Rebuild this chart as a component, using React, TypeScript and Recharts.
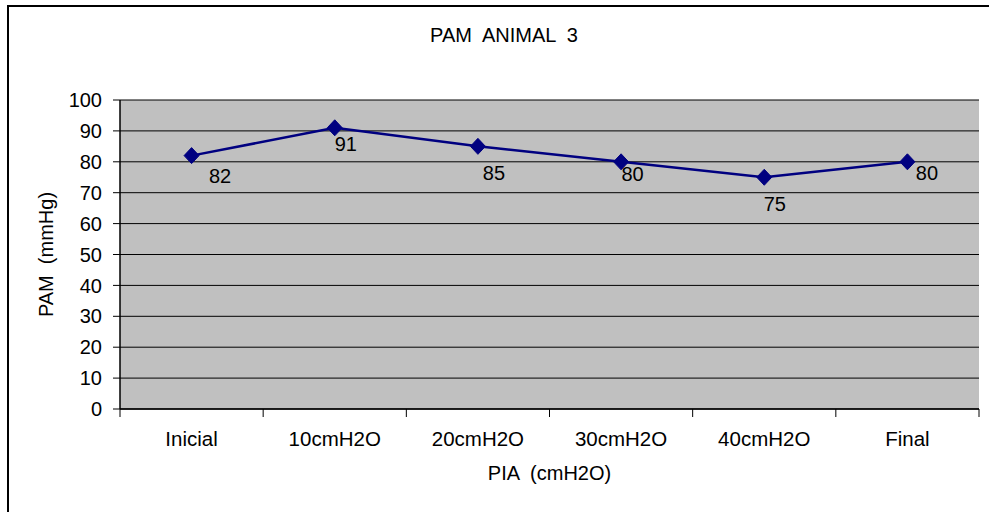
import React from 'react';
import { LineChart, Line, XAxis, YAxis, CartesianGrid, LabelList } from 'recharts';

// Mean arterial pressure per intra-abdominal pressure step
const categories = ['Inicial', '10cmH2O', '20cmH2O', '30cmH2O', '40cmH2O', 'Final'];
const pamValues = [82, 91, 85, 80, 75, 80];
const yTicks = [0, 10, 20, 30, 40, 50, 60, 70, 80, 90, 100];

const chartTitle = 'PAM  ANIMAL  3';
const xTitle = 'PIA  (cmH2O)';
const yTitle = 'PAM  (mmHg)';

const W = 989;
const H = 512;
const PLOT_LEFT = 120;
const PLOT_RIGHT = 979;
const PLOT_TOP = 100;
const PLOT_BOTTOM = 409;
const Y_AXIS_W = 60;
const X_AXIS_H = 40;
const FONT = '"Liberation Sans", Arial, Helvetica, sans-serif';
const FS = 20;
const NAVY = '#000080';

// label placement (dx, dy) relative to each marker
const LABEL_OFFSETS: [number, number][] = [
  [28.5, 20],
  [11, 16.5],
  [16, 27],
  [11.5, 12],
  [10.5, 26.5],
  [19.5, 11],
];

const data = categories.map((name, i) => ({ name, pam: pamValues[i] }));
const bandWidth = (PLOT_RIGHT - PLOT_LEFT) / categories.length;

const renderXTick = (props: any) => {
  const { x, y, payload, index } = props;
  const left = x - bandWidth / 2;
  const right = x + bandWidth / 2;
  return (
    <g key={`xt-${index}`}>
      <line x1={left} x2={left} y1={y} y2={y + 8} stroke="#000" strokeWidth={1} />
      {index === categories.length - 1 && (
        <line x1={right} x2={right} y1={y} y2={y + 8} stroke="#000" strokeWidth={1} />
      )}
      <text x={x} y={y + 37} textAnchor="middle" fontSize={20.5} fontFamily={FONT} fill="#000">
        {payload.value}
      </text>
    </g>
  );
};

const renderDiamond = (props: any) => {
  const { cx, cy, index } = props;
  if (cx == null || cy == null) return <g key={`dm-${index}`} />;
  const hw = 7.5;
  const hh = 8;
  return (
    <polygon
      key={`dm-${index}`}
      points={`${cx},${cy - hh} ${cx + hw},${cy} ${cx},${cy + hh} ${cx - hw},${cy}`}
      fill={NAVY}
      stroke={NAVY}
      strokeWidth={1}
    />
  );
};

const renderValueLabel = (props: any) => {
  const { x, y, value, index } = props;
  const [dx, dy] = LABEL_OFFSETS[index] || [10, 15];
  return (
    <text
      key={`lb-${index}`}
      x={x + dx}
      y={y + dy + 7}
      textAnchor="middle"
      fontSize={FS}
      fontFamily={FONT}
      fill="#000"
    >
      {value}
    </text>
  );
};

const preText: React.CSSProperties = { whiteSpace: 'pre' };

export default function App() {
  return (
    <div
      style={{
        position: 'fixed',
        left: 0,
        top: 0,
        width: W,
        height: H,
        overflow: 'hidden',
        background: '#fff',
      }}
    >
      <div
        style={{
          position: 'absolute',
          left: 7,
          top: 5,
          width: W + 50,
          height: H + 50,
          borderLeft: '2px solid #000',
          borderTop: '2px solid #000',
          boxSizing: 'border-box',
        }}
      />
      <div style={{ position: 'absolute', left: 0, top: 0 }}>
        <LineChart
          width={W}
          height={H}
          data={data}
          margin={{
            top: PLOT_TOP,
            right: W - PLOT_RIGHT,
            bottom: H - PLOT_BOTTOM - X_AXIS_H,
            left: PLOT_LEFT - Y_AXIS_W,
          }}
        >
          <CartesianGrid vertical={false} stroke="#000" strokeWidth={1} fill="#C0C0C0" fillOpacity={1} />
          <XAxis
            dataKey="name"
            scale="band"
            interval={0}
            height={X_AXIS_H}
            tickLine={false}
            tickSize={0}
            tickMargin={0}
            axisLine={{ stroke: '#000', strokeWidth: 1.5 }}
            tick={renderXTick}
          />
          <XAxis
            xAxisId="top"
            dataKey="name"
            scale="band"
            orientation="top"
            height={0}
            tick={false}
            tickLine={false}
            axisLine={{ stroke: '#808080', strokeWidth: 2 }}
          />
          <YAxis
            type="number"
            domain={[0, 100]}
            ticks={yTicks}
            interval={0}
            width={Y_AXIS_W}
            tickSize={7}
            tickMargin={11}
            axisLine={{ stroke: '#000', strokeWidth: 1.5 }}
            tickLine={{ stroke: '#000' }}
            tick={{ fill: '#000', fontSize: FS, fontFamily: FONT }}
          />
          <YAxis
            yAxisId="right"
            orientation="right"
            type="number"
            domain={[0, 100]}
            width={0}
            tick={false}
            tickLine={false}
            axisLine={{ stroke: '#808080', strokeWidth: 2 }}
          />
          <Line
            type="linear"
            dataKey="pam"
            stroke={NAVY}
            strokeWidth={2.5}
            dot={renderDiamond}
            activeDot={false}
            isAnimationActive={false}
          >
            <LabelList dataKey="pam" content={renderValueLabel} />
          </Line>
        </LineChart>
      </div>
      <svg
        width={W}
        height={H}
        style={{ position: 'absolute', left: 0, top: 0, pointerEvents: 'none' }}
      >
        <text x={504} y={42} textAnchor="middle" fontSize={FS} fontFamily={FONT} fill="#000" style={preText}>
          {chartTitle}
        </text>
        <text
          x={(PLOT_LEFT + PLOT_RIGHT) / 2}
          y={480}
          textAnchor="middle"
          fontSize={FS}
          fontFamily={FONT}
          fill="#000"
          style={preText}
        >
          {xTitle}
        </text>
        <text
          x={53}
          y={(PLOT_TOP + PLOT_BOTTOM) / 2}
          textAnchor="middle"
          fontSize={FS}
          fontFamily={FONT}
          fill="#000"
          style={preText}
          transform={`rotate(-90, 53, ${(PLOT_TOP + PLOT_BOTTOM) / 2})`}
        >
          {yTitle}
        </text>
      </svg>
    </div>
  );
}
